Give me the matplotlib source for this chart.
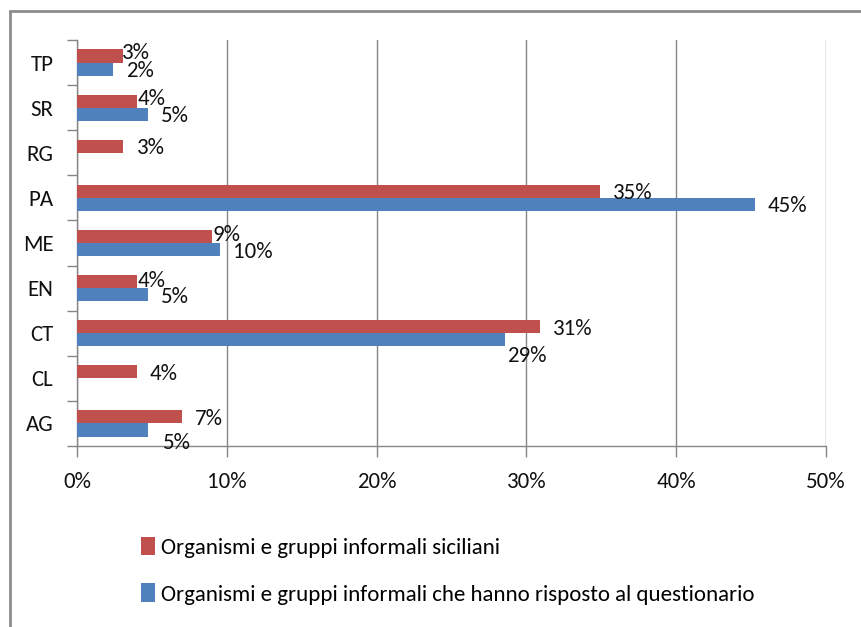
import matplotlib
matplotlib.use("Agg")
import matplotlib.pyplot as plt
import numpy as np
from matplotlib.patches import Rectangle

plt.rcParams["font.family"] = ["Carlito", "DejaVu Sans"]

# ------------------------------------------------------------------
# Dati (in %)
# ------------------------------------------------------------------
PROVINCE = ["AG", "CL", "CT", "EN", "ME", "PA", "RG", "SR", "TP"]
SICILIANI = [7.0, 4.0, 30.9, 4.0, 9.0, 34.9, 3.1, 4.0, 3.1]
QUESTIONARIO = [4.76, 0.0, 28.57, 4.76, 9.52, 45.24, 0.0, 4.76, 2.38]
SERIE_NOMI = [
    "Organismi e gruppi informali siciliani",
    "Organismi e gruppi informali che hanno risposto al questionario",
]
X_TICKS = [0, 10, 20, 30, 40, 50]

ROSSO = "#C0504D"
BLU = "#4F81BD"
GRIGIO = "#868686"
TESTO = "#111111"
FS = 16.5

# etichette spostate a mano (pixel: dx, dy verso il basso)
SPOSTAMENTI = {
    ("sic", "TP"): (-2, -3),
    ("sic", "SR"): (1, -2),
    ("sic", "ME"): (1, -1),
    ("sic", "EN"): (1, -1),
    ("que", "CT"): (2, 16),
    ("que", "AG"): (15, 13),
}
DX_DEFAULT, DY_DEFAULT = 13, 2

fig = plt.figure(figsize=(8.62, 6.27), dpi=100)
ax = fig.add_axes([77 / 862, 1 - 446 / 627, (826 - 77) / 862, (446 - 40) / 627])

y = np.arange(len(PROVINCE))
h = 0.29
ax.barh(y + h / 2, SICILIANI, height=h, color=ROSSO, label=SERIE_NOMI[0], zorder=3)
ax.barh(y - h / 2, QUESTIONARIO, height=h, color=BLU, label=SERIE_NOMI[1], zorder=3)

# etichette dei valori
for nome, valori, off in [("sic", SICILIANI, h / 2), ("que", QUESTIONARIO, -h / 2)]:
    for i, (prov, v) in enumerate(zip(PROVINCE, valori)):
        if v <= 0:
            continue
        dx, dy = SPOSTAMENTI.get((nome, prov), (DX_DEFAULT, DY_DEFAULT))
        ax.annotate(f"{v:.0f}%", (v, i + off), xytext=(dx, -dy),
                    textcoords="offset pixels", ha="left", va="center",
                    fontsize=FS, color=TESTO, zorder=4)

ax.set_xlim(0, 50)
ax.set_ylim(-0.5, len(PROVINCE) - 0.5)
ax.set_xticks(X_TICKS)
ax.set_xticklabels([f"{t}%" for t in X_TICKS], fontsize=FS, color=TESTO)
ax.set_yticks(y)
ax.set_yticklabels(PROVINCE, fontsize=FS, color=TESTO)
ax.set_yticks(np.arange(-0.5, len(PROVINCE)), minor=True)
ax.tick_params(axis="y", which="major", length=0, pad=17)
ax.tick_params(axis="y", which="minor", length=7, color=GRIGIO, width=1)
ax.tick_params(axis="x", length=8, color=GRIGIO, width=1, pad=11)

ax.grid(axis="x", color=GRIGIO, linewidth=1, zorder=0)
for lato in ["top", "right"]:
    ax.spines[lato].set_visible(False)
for lato in ["left", "bottom"]:
    ax.spines[lato].set_color(GRIGIO)
    ax.spines[lato].set_linewidth(1)

# legenda sotto il grafico
fig.legend(loc="upper left", bbox_to_anchor=(132 / 862, 1 - 528 / 627),
           frameon=False, fontsize=FS, handlelength=0.6, handleheight=0.85,
           handletextpad=0.25, labelspacing=1.1, borderaxespad=0)

# cornice del grafico (solo i bordi visibili)
fig.patches.append(Rectangle((10 / 862, -0.1), 1.2, 1 - 11 / 627 + 0.1,
                             transform=fig.transFigure, fill=False,
                             edgecolor="#8c8c8c", linewidth=2))

fig.savefig("out.png", dpi=100)
